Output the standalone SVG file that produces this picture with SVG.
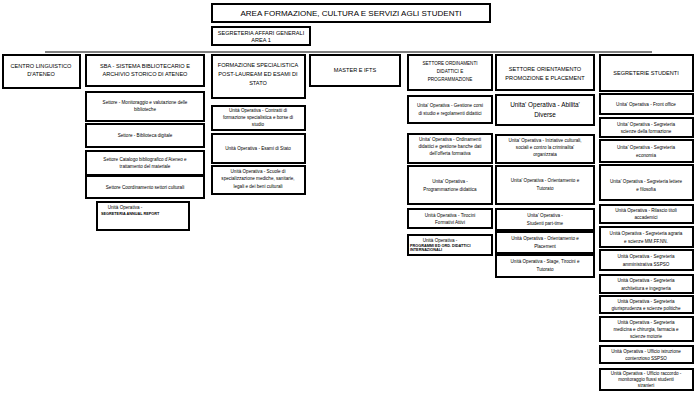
<svg xmlns="http://www.w3.org/2000/svg" width="700" height="402" viewBox="0 0 700 402">
<style>
rect{fill:#fff;stroke:#000;stroke-width:2}
text{font-family:"Liberation Sans",Arial,sans-serif;font-size:4.6px;text-anchor:middle;fill:#000}
.h{font-size:5.6px}
.t{font-size:8px}
.b{font-weight:bold;font-size:3.8px;text-anchor:start}
</style>
<rect width="700" height="402" style="stroke:none"/>
<g id="connectors"><line x1="45" y1="52" x2="652" y2="52" stroke="#000" stroke-width="1"/></g>
<g id="title"><rect x="212" y="4" width="278" height="18"/><text class="t" x="351" y="16">AREA FORMAZIONE, CULTURA E SERVIZI AGLI STUDENTI</text></g>
<g id="sag"><rect x="212" y="27" width="98" height="18"/><text class="h" x="261" y="35">SEGRETERIA AFFARI GENERALI</text><text class="h" x="261" y="42">AREA 1</text></g>
<g id="cla"><rect x="3" y="55" width="77" height="33"/><text class="h" x="41" y="68">CENTRO LINGUISTICO</text><text class="h" x="41" y="76">D'ATENEO</text></g>
<g id="sba"><rect x="86" y="55" width="118" height="31"/><text class="h" x="145" y="68">SBA - SISTEMA BIBLIOTECARIO E</text><text class="h" x="145" y="76">ARCHIVIO STORICO DI ATENEO</text></g>
<g id="sba1"><rect x="86" y="92" width="118" height="29"/><text x="145" y="104">Settore - Monitoraggio e valutazione delle</text><text x="145" y="111">biblioteche</text></g>
<g id="sba2"><rect x="86" y="124" width="118" height="23"/><text x="145" y="137">Settore - Biblioteca digitale</text></g>
<g id="sba3"><rect x="86" y="151" width="118" height="24"/><text x="145" y="161">Settore Catalogo bibliografico d'Ateneo e</text><text x="145" y="168">trattamento del materiale</text></g>
<g id="sba4"><rect x="86" y="176" width="118" height="22"/><text x="145" y="189">Settore Coordinamento settori culturali</text></g>
<g id="sba5"><rect x="97" y="202" width="92" height="28"/><text x="125" y="209">Unità Operativa -</text><text class="b" x="101" y="215">SEGRETERIA ANNUAL REPORT</text></g>
<g id="fps"><rect x="212" y="55" width="93" height="43"/><text class="h" x="258" y="67">FORMAZIONE SPECIALISTICA</text><text class="h" x="258" y="76">POST-LAUREAM ED ESAMI DI</text><text class="h" x="258" y="85">STATO</text></g>
<g id="fps1"><rect x="212" y="106" width="93" height="24"/><text x="258" y="112">Unità Operativa - Contratti di</text><text x="258" y="119">formazione specialistica e borse di</text><text x="258" y="126">studio</text></g>
<g id="fps2"><rect x="212" y="134" width="93" height="29"/><text x="258" y="150">Unità Operativa - Esami di Stato</text></g>
<g id="fps3"><rect x="212" y="166" width="93" height="28"/><text x="258" y="173">Unità Operativa - Scuole di</text><text x="258" y="180">specializzazione mediche, sanitarie,</text><text x="258" y="188">legali e dei beni culturali</text></g>
<g id="master"><rect x="310" y="55" width="90" height="31"/><text class="h" x="355" y="72">MASTER E IFTS</text></g>
<g id="ord"><rect x="408" y="55" width="84" height="35"/><text x="450" y="65">SETTORE ORDINAMENTI</text><text x="450" y="73">DIDATTICI E</text><text x="450" y="81">PROGRAMMAZIONE</text></g>
<g id="ord1"><rect x="408" y="96" width="84" height="27"/><text x="450" y="107">Unita' Operativa - Gestione corsi</text><text x="450" y="115">di studio e regolamenti didattici</text></g>
<g id="ord2"><rect x="408" y="134" width="84" height="29"/><text x="450" y="141">Unita' Operativa - Ordinamenti</text><text x="450" y="148">didattici e gestione banche dati</text><text x="450" y="155">dell'offerta formativa</text></g>
<g id="ord3"><rect x="408" y="166" width="84" height="38"/><text x="450" y="183">Unita' Operativa -</text><text x="450" y="191">Programmazione didattica</text></g>
<g id="ord4"><rect x="408" y="209" width="84" height="19"/><text x="450" y="217">Unità Operativa - Tirocini</text><text x="450" y="224">Formativi Attivi</text></g>
<g id="ord5"><rect x="408" y="235" width="84" height="20"/><text x="440" y="242">Unità Operativa -</text><text class="b" x="410" y="247">PROGRAMMI ED ORD. DIDATTICI</text><text class="b" x="410" y="251">INTERNAZIONALI</text></g>
<g id="ori"><rect x="496" y="55" width="98" height="35"/><text class="h" x="545" y="71">SETTORE ORIENTAMENTO</text><text class="h" x="545" y="80">PROMOZIONE E PLACEMENT</text></g>
<g id="ori1"><rect x="496" y="95" width="98" height="30"/><text class="h" x="545" y="107" style="font-size:6.4px">Unita' Operativa - Abilita'</text><text class="h" x="545" y="117" style="font-size:6.4px">Diverse</text></g>
<g id="ori2"><rect x="496" y="135" width="98" height="28"/><text x="545" y="142">Unita' Operativa - Iniziative culturali,</text><text x="545" y="149">sociali e contro la criminalita'</text><text x="545" y="156">organizzata</text></g>
<g id="ori3"><rect x="496" y="166" width="98" height="38"/><text x="545" y="182">Unita' Operativa - Orientamento e</text><text x="545" y="190">Tutorato</text></g>
<g id="ori4"><rect x="496" y="209" width="98" height="21"/><text x="545" y="217">Unita' Operativa -</text><text x="545" y="225">Studenti part-time</text></g>
<g id="ori5"><rect x="496" y="232" width="98" height="21"/><text x="545" y="240">Unità Operativa - Orientamento e</text><text x="545" y="248">Placement</text></g>
<g id="ori6"><rect x="496" y="255" width="98" height="22"/><text x="545" y="263">Unità Operativa - Stage, Tirocini e</text><text x="545" y="271">Tutorato</text></g>
<g id="seg"><rect x="600" y="55" width="93" height="36"/><text class="h" x="646" y="75">SEGRETERIE STUDENTI</text></g>
<g id="seg1"><rect x="600" y="94" width="93" height="20"/><text x="646" y="106">Unita' Operativa - Front office</text></g>
<g id="seg2"><rect x="600" y="118" width="93" height="19"/><text x="646" y="126">Unita' Operativa - Segreteria</text><text x="646" y="133">scienze della formazione</text></g>
<g id="seg3"><rect x="600" y="140" width="93" height="22"/><text x="646" y="149">Unita' Operativa - Segreteria</text><text x="646" y="157">economia</text></g>
<g id="seg4"><rect x="600" y="165" width="93" height="35"/><text x="646" y="183">Unita' Operativa - Segreteria lettere</text><text x="646" y="191">e filosofia</text></g>
<g id="seg5"><rect x="600" y="205" width="93" height="18"/><text x="646" y="212">Unità Operativa - Rilascio titoli</text><text x="646" y="219">accademici</text></g>
<g id="seg6"><rect x="600" y="227" width="93" height="20"/><text x="646" y="235">Unità Operativa - Segreteria agraria</text><text x="646" y="243">e scienze MM.FF.NN.</text></g>
<g id="seg7"><rect x="600" y="250" width="93" height="20"/><text x="646" y="258">Unità Operativa - Segreteria</text><text x="646" y="266">amministrativa SSPSO</text></g>
<g id="seg8"><rect x="600" y="275" width="93" height="18"/><text x="646" y="282">Unità Operativa - Segreteria</text><text x="646" y="290">architettura e ingegneria</text></g>
<g id="seg9"><rect x="600" y="296" width="93" height="17"/><text x="646" y="303">Unità Operativa - Segreteria</text><text x="646" y="310">giurisprudenza e scienze politiche</text></g>
<g id="seg10"><rect x="600" y="317" width="93" height="24"/><text x="646" y="324">Unità Operativa - Segreteria</text><text x="646" y="331">medicina e chirurgia, farmacia e</text><text x="646" y="338">scienze motorie</text></g>
<g id="seg11"><rect x="600" y="346" width="93" height="17"/><text x="646" y="353">Unità Operativa - Ufficio istruzione</text><text x="646" y="360">contenzioso SSPSO</text></g>
<g id="seg12"><rect x="600" y="369" width="93" height="21"/><text x="646" y="375">Unità Operativa - Ufficio raccordo -</text><text x="646" y="381">monitoraggio flussi studenti</text><text x="646" y="387">stranieri</text></g>
</svg>
